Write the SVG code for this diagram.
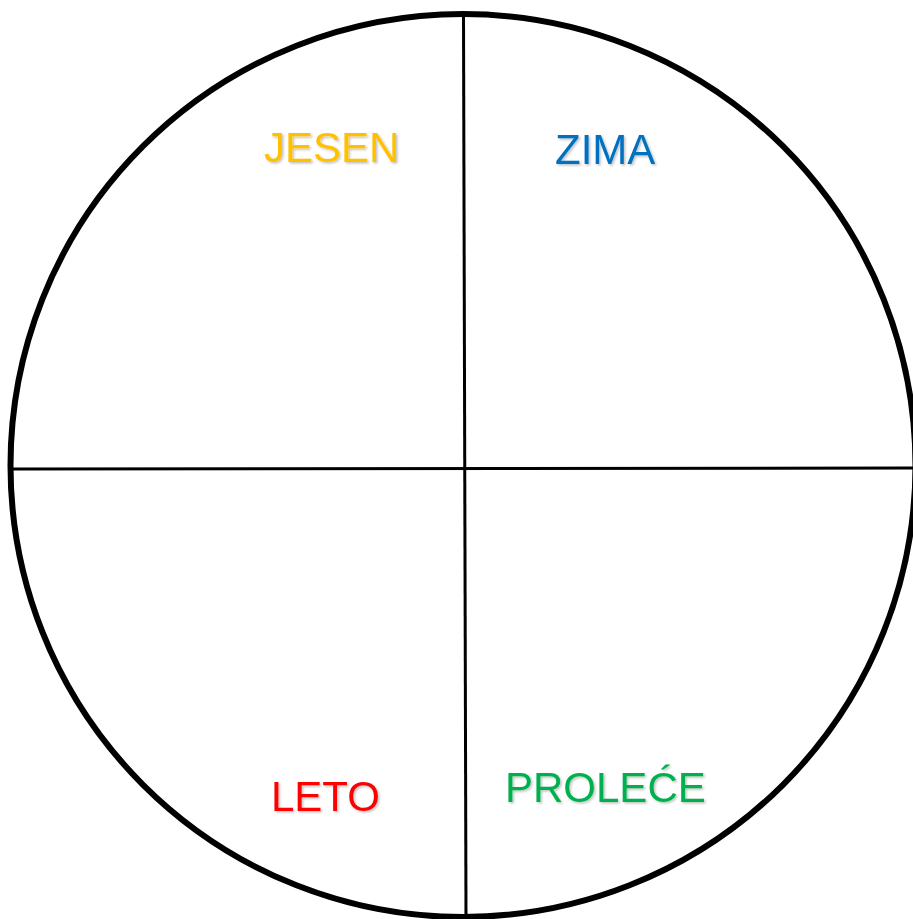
<svg xmlns="http://www.w3.org/2000/svg" width="913" height="919" viewBox="0 0 913 919">
  <style>
    .lbl { font-family: "Liberation Sans", Arial, sans-serif; font-size: 42px; filter: url(#sh); }
    .ln { stroke: #000; stroke-width: 3; fill: none; }
  </style>
  <defs>
    <filter id="sh" x="-10%" y="-20%" width="130%" height="160%">
      <feDropShadow dx="1.5" dy="1.5" stdDeviation="1" flood-color="#000" flood-opacity="0.25"/>
    </filter>
  </defs>
  <rect width="913" height="919" fill="#fff"/>
  <g id="circle">
    <ellipse cx="463" cy="465.5" rx="452.5" ry="451.5" fill="none" stroke="#000" stroke-width="6"/>
  </g>
  <g id="connectors">
    <line class="ln" x1="463.5" y1="16" x2="466" y2="919"/>
    <line class="ln" x1="12" y1="469" x2="913" y2="468"/>
  </g>
  <g id="jesen"><text class="lbl" x="264" y="162" fill="#FFC000">JESEN</text></g>
  <g id="zima"><text class="lbl" x="555" y="164" fill="#0070C0">ZIMA</text></g>
  <g id="leto"><text class="lbl" x="271" y="811" fill="#FF0000">LETO</text></g>
  <g id="prolece"><text class="lbl" x="505" y="802" fill="#00B050">PROLEĆE</text></g>
</svg>
